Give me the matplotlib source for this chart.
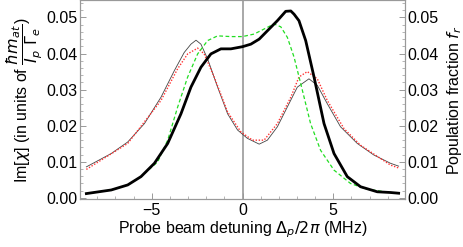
import numpy as np
import matplotlib
matplotlib.use("Agg")
import matplotlib.pyplot as plt
from matplotlib.ticker import MultipleLocator

plt.rcParams['font.family'] = ['Liberation Sans', 'DejaVu Sans']
plt.rcParams['mathtext.fontset'] = 'dejavusans'

# Population fraction (thick black)
x_pop = [-8.6, -7.23, -6.32, -5.59, -4.85, -4.12, -3.39, -2.84, -2.29, -1.74, -1.19, -0.64, 0.0,
         0.46, 0.92, 1.37, 1.92, 2.38, 2.66, 2.84, 3.11, 3.48, 3.94, 4.49, 5.04, 5.77, 6.5, 7.42, 8.15, 8.6]
y_pop = [0.0012, 0.0022, 0.0036, 0.0059, 0.0096, 0.0151, 0.0233, 0.0307, 0.0362, 0.0399, 0.0413, 0.0413, 0.0419,
         0.0426, 0.0440, 0.0463, 0.0491, 0.0517, 0.0518, 0.0509, 0.0491, 0.0436, 0.0335, 0.0206, 0.0123, 0.0059,
         0.0031, 0.0017, 0.0015, 0.0013]

# Population fraction, second model (green dashed)
x_pop2 = [-8.6, -7.23, -6.32, -5.59, -4.67, -4.12, -3.57, -3.02, -2.47, -1.92, -1.37, -0.64, 0.0, 0.64,
          1.19, 1.74, 2.11, 2.47, 2.84, 3.21, 3.75, 4.30, 5.04, 5.95, 6.87, 8.15, 8.6]
y_pop2 = [0.0012, 0.0022, 0.0036, 0.0059, 0.0100, 0.0160, 0.0252, 0.0335, 0.0399, 0.0436, 0.0449, 0.0447,
          0.0447, 0.0454, 0.0468, 0.0482, 0.0474, 0.0445, 0.0390, 0.0316, 0.0206, 0.0132, 0.0077, 0.0040,
          0.0024, 0.0015, 0.0013]

# Im[chi] (thin dark line)
x_chi = [-8.6, -7.23, -6.32, -5.40, -4.49, -3.75, -3.21, -2.84, -2.56, -2.29, -1.92, -1.37, -0.82, -0.27,
         0.27, 0.92, 1.37, 1.92, 2.47, 3.02, 3.66, 4.12, 4.67, 5.40, 6.32, 7.23, 8.15, 8.6]
y_chi = [0.0086, 0.0123, 0.0155, 0.0206, 0.0279, 0.0353, 0.0403, 0.0426, 0.0437, 0.0426, 0.0385, 0.0307,
         0.0233, 0.0188, 0.0165, 0.0149, 0.0160, 0.0197, 0.0252, 0.0307, 0.0330, 0.0312, 0.0261, 0.0197,
         0.0151, 0.0119, 0.0096, 0.0088]

# Im[chi], second model (red dotted)
x_chi2 = [-8.6, -6.32, -4.49, -3.57, -3.02, -2.47, -2.11, -1.56, -0.82, -0.09, 0.55, 1.19, 1.92, 2.66,
          3.11, 3.57, 4.12, 4.67, 5.59, 6.5, 8.15, 8.6]
y_chi2 = [0.0079, 0.0151, 0.0270, 0.0358, 0.0399, 0.0415, 0.0399, 0.0335, 0.0238, 0.0183, 0.0160, 0.0160,
          0.0206, 0.0279, 0.0335, 0.0350, 0.0330, 0.0270, 0.0192, 0.0146, 0.0091, 0.0083]

xticks = [-5, 0, 5]
xtick_labels = ['\u22125', '0', '5']
yticks = [0.00, 0.01, 0.02, 0.03, 0.04, 0.05]
ytick_labels = ["0.00", "0.01", "0.02", "0.03", "0.04", "0.05"]

FS = 11.5

fig = plt.figure(figsize=(4.63, 2.47), dpi=100)
ax = fig.add_axes([80/463, 1 - 199/247, 325/463, 199/247 - 0.002])

ax.axvline(0, color='#999999', lw=1.2, zorder=1)
ax.plot(x_chi, y_chi, color='#444444', lw=0.6, zorder=3)
ax.plot(x_chi2, y_chi2, color='#ff3333', lw=1.0, ls=(0, (1, 1.2)), zorder=3)
ax.plot(x_pop2, y_pop2, color='#22dd22', lw=0.9, ls=(0, (3, 2)), zorder=4)
ax.plot(x_pop, y_pop, color='black', lw=2.0, zorder=5)

ylim = (-0.0003, 0.0547)
ax.set_xlim(-8.95, 8.95)
ax.set_ylim(*ylim)

ax.set_xticks(xticks)
ax.set_xticklabels(xtick_labels)
ax.set_yticks(yticks)
ax.set_yticklabels(ytick_labels)
ax.xaxis.set_minor_locator(MultipleLocator(1))
ax.yaxis.set_minor_locator(MultipleLocator(0.002))

ax2 = ax.twinx()
ax2.set_ylim(*ylim)
ax2.set_yticks(yticks)
ax2.set_yticklabels(ytick_labels)
ax2.yaxis.set_minor_locator(MultipleLocator(0.002))

for a in (ax, ax2):
    for s in a.spines.values():
        s.set_color('#999999')
        s.set_linewidth(0.8)
    a.tick_params(which='both', direction='in', color='#999999', labelsize=FS)
    a.tick_params(which='major', length=4, width=0.7)
    a.tick_params(which='minor', length=2, width=0.5)
ax.tick_params(axis='y', pad=2)
ax2.tick_params(axis='y', pad=2)
ax.tick_params(axis='x', pad=3)

ax.set_xlabel(r'Probe beam detuning $\Delta_p/2\pi$ (MHz)', fontsize=FS, labelpad=1)
ax.set_ylabel(r'Im[$\chi$] (in units of $\dfrac{\hbar m_{at}}{I_p\ \Gamma_e}$)', fontsize=FS, labelpad=1)
ax2.set_ylabel(r'Population fraction $f_r$', fontsize=FS, labelpad=4)

fig.savefig('out.png', dpi=100)
